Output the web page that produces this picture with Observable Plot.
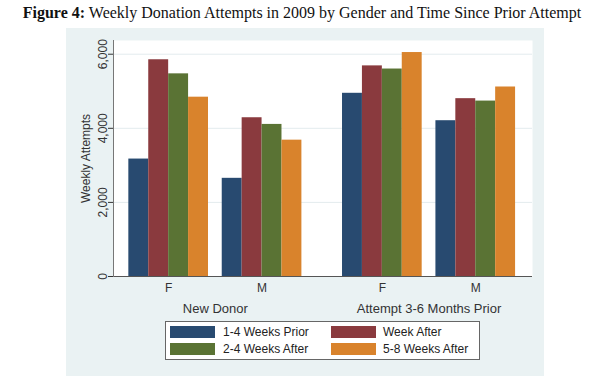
<!DOCTYPE html>
<html><head><meta charset="utf-8">
<script src="https://cdn.jsdelivr.net/npm/d3@7"></script>
<script src="https://cdn.jsdelivr.net/npm/@observablehq/plot@0.6"></script>
<style>
body{margin:0;background:#fff;}
#wrap{position:relative;width:604px;height:385px;overflow:hidden;font-family:"Liberation Sans",Arial,sans-serif;color:#222;}
#title{position:absolute;left:0;top:4px;width:604px;text-align:center;font-family:"Liberation Serif","Times New Roman",serif;font-size:16px;white-space:nowrap;color:#111;}
#panel{position:absolute;left:66px;top:28px;width:478px;height:348px;background:#eaf2f3;}
#chart{position:absolute;left:66px;top:28px;}
#legend{position:absolute;left:165px;top:321px;width:313px;height:37px;border:1px solid #666;background:#fff;}
.sw{position:absolute;width:45px;height:12px;}
.lt{position:absolute;font-size:12px;line-height:12px;white-space:nowrap;}
</style></head>
<body>
<div id="wrap">
  <div id="title"><b>Figure 4:</b> Weekly Donation Attempts in 2009 by Gender and Time Since Prior Attempt</div>
  <div id="panel"></div>
  <div id="chart"></div>
  <div id="legend"></div>
</div>
<script>
const groups = ["New Donor", "Attempt 3-6 Months Prior"];
const genders = ["F", "M"];
const seriesNames = ["1-4 Weeks Prior", "Week After", "2-4 Weeks After", "5-8 Weeks After"];
const colors = ["#284a70", "#8a3a3e", "#5a7334", "#d9832c"];
const newDonorF = [3170, 5850, 5470, 4840];
const newDonorM = [2650, 4285, 4105, 3680];
const priorF = [4945, 5685, 5600, 6045];
const priorM = [4205, 4800, 4735, 5115];
const yTicks = [0, 2000, 4000, 6000];
const gridTicks = [2000, 4000, 6000];

const table = [];
[[newDonorF, newDonorM], [priorF, priorM]].forEach((pair, g) =>
  pair.forEach((vals, k) =>
    vals.forEach((v, s) => table.push({group: groups[g], gender: genders[k], series: seriesNames[s], g, k, s, value: v}))));

// layout of the nested bands on a linear x scale (units = one bar width)
const GENDER_STEP = 4.69, GROUP_STEP = 10.73;
const pos = d => d.g * GROUP_STEP + d.k * GENDER_STEP + d.s;
const genderCenters = [], genderLabels = [], groupCenters = [];
groups.forEach((gr, g) => {
  genders.forEach((ge, k) => { genderCenters.push(g * GROUP_STEP + k * GENDER_STEP + 2); genderLabels.push(ge); });
  groupCenters.push(g * GROUP_STEP + (GENDER_STEP + 4) / 2);
});

const chart = Plot.plot({
  width: 478, height: 348,
  marginLeft: 47, marginRight: 12, marginTop: 12, marginBottom: 100,
  style: {background: "transparent", fontFamily: "'Liberation Sans', Arial, sans-serif", fontSize: "12px", color: "#333"},
  x: {type: "linear", domain: [-0.77, 20.27], axis: null},
  y: {domain: [0, 6370], axis: null},
  color: {domain: seriesNames, range: colors},
  marks: [
    Plot.frame({fill: "white", stroke: null}),
    Plot.ruleY(gridTicks, {stroke: "#e3ebee"}),
    Plot.rectY(table, {x1: pos, x2: d => pos(d) + 1, y: "value", fill: "series"}),
    Plot.ruleY([0], {stroke: "#555"}),
    Plot.frame({anchor: "left", stroke: "#777"}),
    Plot.axisY({ticks: yTicks, tickFormat: d3.format(","), tickRotate: -90, tickSize: 5, tickPadding: 2, fontSize: 12,
      label: "Weekly Attempts", labelAnchor: "center", labelOffset: 32, labelArrow: false}),
    Plot.axisX({ticks: genderCenters, tickFormat: d => genderLabels[genderCenters.indexOf(d)], tickSize: 0, tickPadding: 7, label: null, fontSize: 12}),
    Plot.axisX({ticks: groupCenters, tickFormat: d => groups[groupCenters.indexOf(d)], tickSize: 0, tickPadding: 27, label: null, fontSize: 13})
  ]
});
document.getElementById("chart").appendChild(chart);

// legend
const lg = document.getElementById("legend");
const cols = [[4, 57], [165, 217]], rows = [4, 21];
seriesNames.forEach((name, i) => {
  const c = cols[i % 2], r = rows[Math.floor(i / 2)];
  const sw = document.createElement("div"); sw.className = "sw";
  sw.style.left = c[0] + "px"; sw.style.top = r + "px"; sw.style.background = colors[i];
  const t = document.createElement("div"); t.className = "lt";
  t.style.left = c[1] + "px"; t.style.top = r + "px"; t.textContent = name;
  lg.appendChild(sw); lg.appendChild(t);
});
</script>
</body></html>
